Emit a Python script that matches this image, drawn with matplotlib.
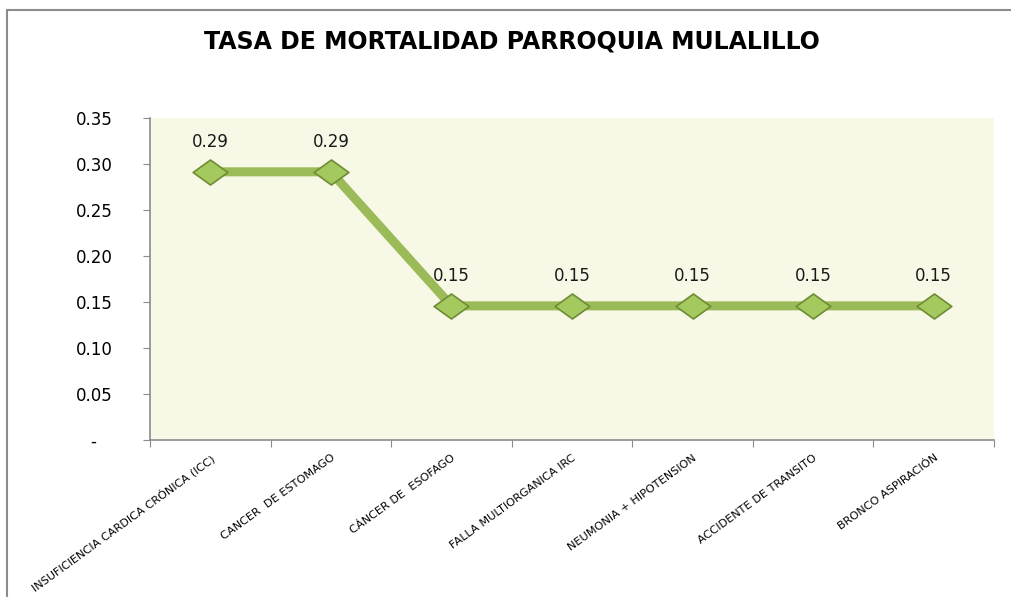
import matplotlib.pyplot as plt
from matplotlib.patches import Rectangle
from matplotlib.path import Path

# Datos
causas = ['INSUFICIENCIA CARDICA CRÓNICA (ICC)', 'CANCER  DE ESTOMAGO', 'CÁNCER DE  ESOFAGO',
          'FALLA MULTIORGANICA IRC', 'NEUMONIA + HIPOTENSION', 'ACCIDENTE DE TRANSITO',
          'BRONCO ASPIRACIÓN']
tasas = [0.2915, 0.2915, 0.1458, 0.1458, 0.1458, 0.1458, 0.1458]
y_ticks = [0, 0.05, 0.10, 0.15, 0.20, 0.25, 0.30, 0.35]
y_labels = ['-   ', '0.05', '0.10', '0.15', '0.20', '0.25', '0.30', '0.35']
titulo = 'TASA DE MORTALIDAD PARROQUIA MULALILLO'

fig = plt.figure(figsize=(10.12, 5.97), dpi=100)
fig.patches.append(Rectangle((7 / 1012, -0.1), 1.2, 1 - 10 / 597 + 0.1, transform=fig.transFigure,
                             fill=False, edgecolor='#8c8c8c', linewidth=1.5))

ax = fig.add_axes([150 / 1012, 157 / 597, 844 / 1012, 322 / 597])
ax.set_facecolor('#f7f9e6')

x = list(range(len(causas)))
rombo = Path([(-1, 0), (0, 0.72), (1, 0), (0, -0.72), (-1, 0)],
             [Path.MOVETO, Path.LINETO, Path.LINETO, Path.LINETO, Path.CLOSEPOLY])
ax.plot(x, tasas, color='#9bbb59', linewidth=6.5, zorder=2, solid_capstyle='butt')
ax.plot(x, tasas, linestyle='none', marker=rombo, markersize=25, markerfacecolor='#a4c95f',
        markeredgecolor='#6f8c35', markeredgewidth=1.2, zorder=3)

for xi, v in zip(x, tasas):
    ax.annotate(f'{v:.2f}', (xi, v), xytext=(0, 15), textcoords='offset points',
                ha='center', va='bottom', fontsize=12, color='#1a1a1a', family='DejaVu Sans')

ax.set_xlim(-0.5, len(causas) - 0.5)
ax.set_ylim(0, 0.35)
ax.set_yticks(y_ticks)
ax.set_yticklabels(y_labels, fontsize=12, family='DejaVu Sans')
ax.set_xticks([i - 0.5 for i in range(len(causas) + 1)], minor=False)
ax.set_xticklabels([])
ax.set_xticks(x, minor=True)
ax.set_xticklabels(causas, minor=True, rotation=36, ha='right', rotation_mode='anchor',
                   fontsize=8.1, family='Liberation Sans Narrow')
ax.tick_params(axis='x', which='minor', length=0, pad=9)
ax.tick_params(axis='x', which='major', length=5, color='#8c8c8c', direction='out')
ax.tick_params(axis='y', length=5, color='#8c8c8c', direction='out', pad=22)

for s in ['top', 'right']:
    ax.spines[s].set_visible(False)
for s in ['left', 'bottom']:
    ax.spines[s].set_color('#8c8c8c')
    ax.spines[s].set_linewidth(1.2)

fig.text(0.506, 1 - 41 / 597, titulo, ha='center', va='center', fontsize=17,
         fontweight='bold', family='DejaVu Sans')

plt.savefig('out.png', dpi=100)
